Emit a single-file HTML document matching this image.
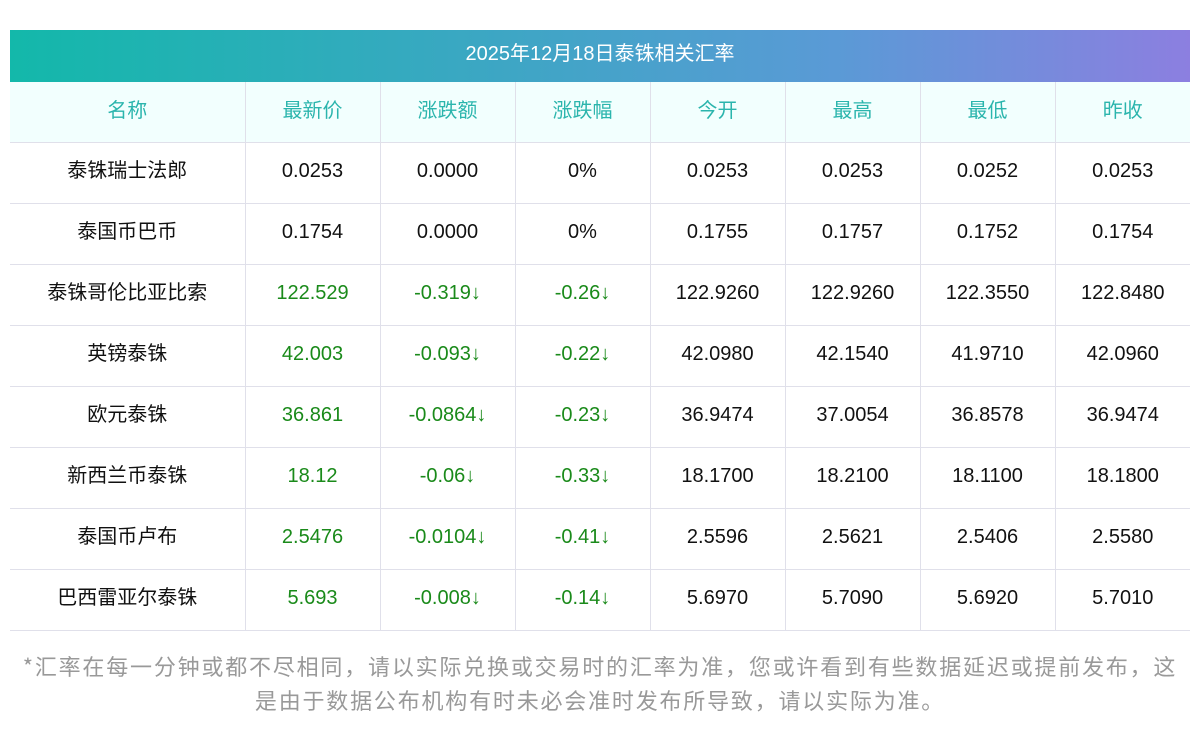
<!DOCTYPE html>
<html><head><meta charset="utf-8"><style>
body{margin:0;width:1200px;height:733px;background:#fff;font-family:"Liberation Sans","Noto Sans CJK SC",sans-serif;position:relative;overflow:hidden}
.title{position:absolute;left:10px;top:30px;width:1180px;height:52px;background:linear-gradient(90deg,#13b8aa,#5a9ad6 70%,#8c7fe0);color:#fff;font-size:20px;line-height:48px;text-align:center}
table{position:absolute;left:10px;top:82px;border-collapse:collapse;width:1180px;table-layout:fixed}
td{border:1px solid #e0e0ea;text-align:center;font-size:20px;height:61px;padding:0 0 4px 0;color:#111;line-height:20px;box-sizing:border-box}
td:first-child{font-family:"Noto Sans CJK SC",sans-serif;padding-bottom:8px}
tr:first-child td{border-top:none;background:#f2fffe;color:#2bb5ad;font-family:"Noto Sans CJK SC",sans-serif;height:60px;padding-bottom:6px}
td:first-child{border-left:none}td:last-child{border-right:none}
.g{color:#1a8a1a}
.foot{position:absolute;left:0;top:649px;width:1200px;text-align:center;color:#999;font-size:22px;line-height:34px;letter-spacing:1.8px;font-family:"Noto Sans CJK SC",sans-serif}
</style></head><body>
<div class="title">2025年12月18日泰铢相关汇率</div>
<table>
<colgroup><col style="width:235px"><col style="width:135px"><col style="width:135px"><col style="width:135px"><col style="width:135px"><col style="width:135px"><col style="width:135px"><col style="width:135px"></colgroup>
<tr><td>名称</td><td>最新价</td><td>涨跌额</td><td>涨跌幅</td><td>今开</td><td>最高</td><td>最低</td><td>昨收</td></tr>
<tr><td>泰铢瑞士法郎</td><td>0.0253</td><td>0.0000</td><td>0%</td><td>0.0253</td><td>0.0253</td><td>0.0252</td><td>0.0253</td></tr>
<tr><td>泰国币巴币</td><td>0.1754</td><td>0.0000</td><td>0%</td><td>0.1755</td><td>0.1757</td><td>0.1752</td><td>0.1754</td></tr>
<tr><td>泰铢哥伦比亚比索</td><td class="g">122.529</td><td class="g">-0.319↓</td><td class="g">-0.26↓</td><td>122.9260</td><td>122.9260</td><td>122.3550</td><td>122.8480</td></tr>
<tr><td>英镑泰铢</td><td class="g">42.003</td><td class="g">-0.093↓</td><td class="g">-0.22↓</td><td>42.0980</td><td>42.1540</td><td>41.9710</td><td>42.0960</td></tr>
<tr><td>欧元泰铢</td><td class="g">36.861</td><td class="g">-0.0864↓</td><td class="g">-0.23↓</td><td>36.9474</td><td>37.0054</td><td>36.8578</td><td>36.9474</td></tr>
<tr><td>新西兰币泰铢</td><td class="g">18.12</td><td class="g">-0.06↓</td><td class="g">-0.33↓</td><td>18.1700</td><td>18.2100</td><td>18.1100</td><td>18.1800</td></tr>
<tr><td>泰国币卢布</td><td class="g">2.5476</td><td class="g">-0.0104↓</td><td class="g">-0.41↓</td><td>2.5596</td><td>2.5621</td><td>2.5406</td><td>2.5580</td></tr>
<tr><td>巴西雷亚尔泰铢</td><td class="g">5.693</td><td class="g">-0.008↓</td><td class="g">-0.14↓</td><td>5.6970</td><td>5.7090</td><td>5.6920</td><td>5.7010</td></tr>
</table>
<div class="foot">*汇率在每一分钟或都不尽相同，请以实际兑换或交易时的汇率为准，您或许看到有些数据延迟或提前发布，这<br>是由于数据公布机构有时未必会准时发布所导致，请以实际为准。</div>
</body></html>
